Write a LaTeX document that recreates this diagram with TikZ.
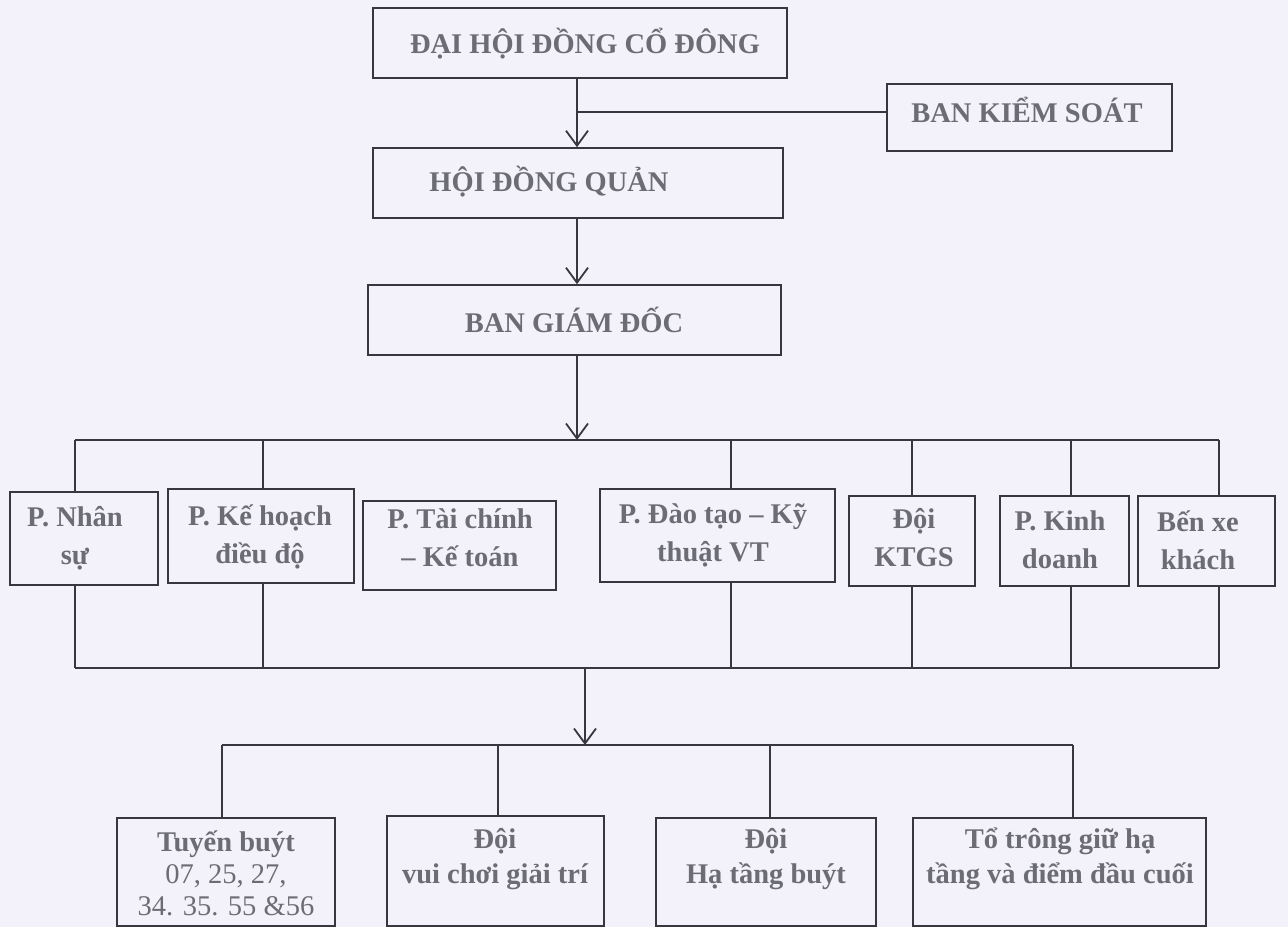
\documentclass[tikz,border=0pt]{standalone}
\usepackage{fontspec}
\setmainfont{Liberation Serif}
\usetikzlibrary{arrows.meta}
\definecolor{bg}{RGB}{243,242,250}
\definecolor{ink}{RGB}{108,108,116}
\definecolor{rule}{RGB}{55,55,62}
\begin{document}
\begin{tikzpicture}[x=1pt,y=-1pt,
  box/.style 2 args={draw=rule,line width=1.6pt,inner sep=0pt,minimum width=#1,minimum height=#2},
  txt/.style={text=ink,font=\bfseries\fontsize{28.5}{38}\selectfont,align=center,inner sep=0pt},
  txtlow/.style={text=ink,font=\fontsize{28.5}{32}\selectfont,align=center,inner sep=0pt},
  txtlowb/.style={text=ink,font=\bfseries\fontsize{28.5}{35}\selectfont,align=center,inner sep=0pt},
  conn/.style={draw=rule,line width=1.6pt},
  arr/.style={draw=rule,line width=1.6pt,-{Straight Barb[length=15pt,width=22pt,line width=1.8pt]}}]
\fill[bg] (0,0) rectangle (1288,927);
\useasboundingbox (0,0) rectangle (1288,927);

% top boxes
\node[box={414pt}{70pt}] (dh) at (580,43) {};
\node[txt] (dhT) at (585,44) {ĐẠI HỘI ĐỒNG CỔ ĐÔNG};
\node[box={285pt}{67pt}] (bks) at (1029.5,117.5) {};
\node[txt] (bksT) at (1027,110) {BAN KIỂM SOÁT};
\node[box={410pt}{70pt}] (hdq) at (578,183) {};
\node[txt] (hdqT) at (549,182) {HỘI ĐỒNG QUẢN};
\node[box={413pt}{70pt}] (bgd) at (574.5,320) {};
\node[txt] (bgdT) at (574,320) {BAN GIÁM ĐỐC};

% second row
\node[box={148pt}{93pt}] (ns) at (84,538.5) {};
\node[txt] (nsT) at (75,538) {P. Nhân\\sự};
\node[box={186pt}{94pt}] (kh) at (261,536) {};
\node[txt] (khT) at (260,537) {P. Kế hoạch\\điều độ};
\node[box={193pt}{89pt}] (tc) at (459.5,545.5) {};
\node[txt] (tcT) at (460,538) {P. Tài chính\\– Kế toán};
\node[box={235pt}{93pt}] (dt) at (717.5,535.5) {};
\node[txt] (dtT) at (713,535) {P. Đào tạo – Kỹ\\thuật VT};
\node[box={126pt}{90pt}] (ktgs) at (912,541) {};
\node[txt] (ktgsT) at (914,538) {Đội\\KTGS};
\node[box={129pt}{90pt}] (kd) at (1064.5,541) {};
\node[txt] (kdT) at (1060,540) {P. Kinh\\doanh};
\node[box={137pt}{90pt}] (bx) at (1206.5,541) {};
\node[txt] (bxT) at (1198,540) {Bến xe\\khách};

% bottom row
\node[box={218pt}{108pt}] (tb) at (226,872) {};
\node[txtlow] (tbT) at (226,873) {\textbf{Tuyến buýt}\\07, 25, 27,\\34. 35. 55 \&56};
\node[box={217pt}{110pt}] (vc) at (495.5,871) {};
\node[txtlowb] (vcT) at (495,859) {Đội\\vui chơi giải trí};
\node[box={220pt}{108pt}] (ht) at (766,872) {};
\node[txtlowb] (htT) at (766,859) {Đội\\Hạ tầng buýt};
\node[box={293pt}{108pt}] (to) at (1059.5,872) {};
\node[txtlowb] (toT) at (1060,859) {Tổ trông giữ hạ\\tầng và điểm đầu cuối};

% upper connectors
\coordinate (c1) at (577,0);
\draw[arr] (c1 |- dh.south) -- (c1 |- hdq.north);
\coordinate (br) at (577,112);
\draw[conn] (br) -- (br -| bks.west);
\draw[arr] (c1 |- hdq.south) -- (c1 |- bgd.north);
\coordinate (tbus) at (577,440);
\draw[arr] (c1 |- bgd.south) -- (tbus);

% top bus
\coordinate (t1) at (75,440);
\coordinate (t2) at (263,440);
\coordinate (t3) at (731,440);
\coordinate (t4) at (912,440);
\coordinate (t5) at (1071,440);
\coordinate (t6) at (1219,440);
\draw[conn] (t1) -- (t6);
\draw[conn] (t1) -- (t1 |- ns.north);
\draw[conn] (t2) -- (t2 |- kh.north);
\draw[conn] (t3) -- (t3 |- dt.north);
\draw[conn] (t4) -- (t4 |- ktgs.north);
\draw[conn] (t5) -- (t5 |- kd.north);
\draw[conn] (t6) -- (t6 |- bx.north);

% bottom bus
\coordinate (b1) at (75,668);
\coordinate (b2) at (263,668);
\coordinate (b3) at (731,668);
\coordinate (b4) at (912,668);
\coordinate (b5) at (1071,668);
\coordinate (b6) at (1219,668);
\draw[conn] (b1) -- (b6);
\draw[conn] (b1 |- ns.south) -- (b1);
\draw[conn] (b2 |- kh.south) -- (b2);
\draw[conn] (b3 |- dt.south) -- (b3);
\draw[conn] (b4 |- ktgs.south) -- (b4);
\draw[conn] (b5 |- kd.south) -- (b5);
\draw[conn] (b6 |- bx.south) -- (b6);

% lower bus
\coordinate (m0) at (585,668);
\coordinate (m1) at (585,745);
\draw[arr] (m0) -- (m1);
\coordinate (l1) at (222,745);
\coordinate (l2) at (498,745);
\coordinate (l3) at (770,745);
\coordinate (l4) at (1073,745);
\draw[conn] (l1) -- (l4);
\draw[conn] (l1) -- (l1 |- tb.north);
\draw[conn] (l2) -- (l2 |- vc.north);
\draw[conn] (l3) -- (l3 |- ht.north);
\draw[conn] (l4) -- (l4 |- to.north);
\end{tikzpicture}
\end{document}
